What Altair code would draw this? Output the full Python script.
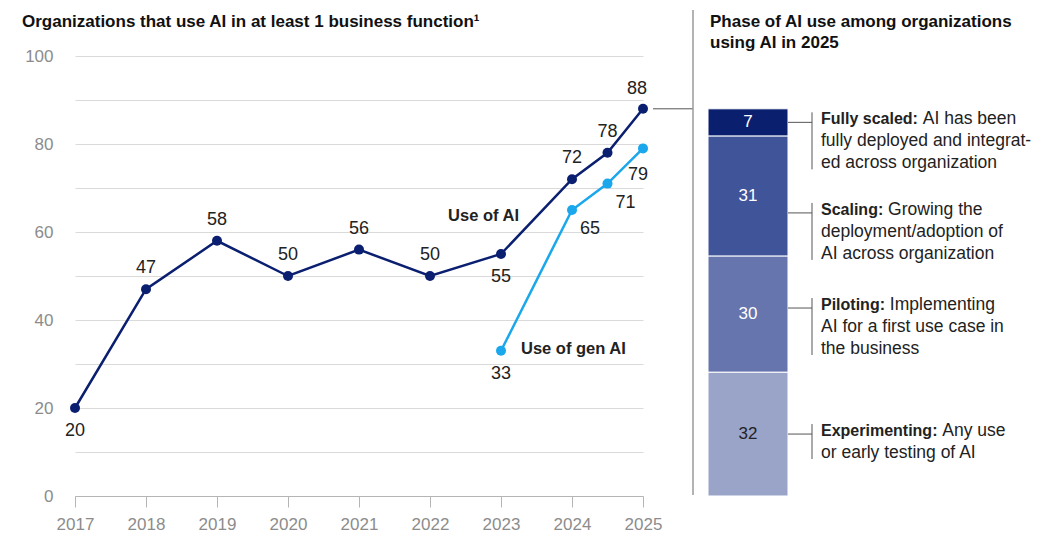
import altair as alt
import pandas as pd

# ---------------- data ----------------
YEARS_AI = [2017, 2018, 2019, 2020, 2021, 2022, 2023, 2024, 2024.5, 2025]
USE_AI = [20, 47, 58, 50, 56, 50, 55, 72, 78, 88]
AI_LABEL_SIDE = ["below", "above", "above", "above", "above", "above",
                 "below", "above", "above", "above_left"]

YEARS_GEN = [2023, 2024, 2024.5, 2025]
USE_GEN_AI = [33, 65, 71, 79]
GEN_LABEL_SIDE = ["below", "below_right", "below_right", "below_left"]

TICK_YEARS = [2017, 2018, 2019, 2020, 2021, 2022, 2023, 2024, 2025]

PHASES = ["Experimenting", "Piloting", "Scaling", "Fully scaled"]
PHASE_SHARE = [32, 30, 31, 7]
PHASE_DESC = [
    ["Any use", "or early testing of AI"],
    ["Implementing", "AI for a first use case in", "the business"],
    ["Growing the", "deployment/adoption of", "AI across organization"],
    ["AI has been", "fully deployed and integrat-", "ed across organization"],
]

TITLE_LEFT = "Organizations that use AI in at least 1 business function\u00b9"
TITLE_RIGHT = ["Phase of AI use among organizations", "using AI in 2025"]
SERIES_AI = "Use of AI"
SERIES_GEN = "Use of gen AI"

# ---------------- style / layout ----------------
FONT = "Liberation Sans"
NAVY = "#0b1f70"
CYAN = "#1aa7ec"
PHASE_COLORS = ["#9aa3c8", "#6675ad", "#40549a", "#0b1f6f"]
GRID = "#dadada"
AXIS_GRAY = "#8c8c8c"
TEXT = "#222222"

W, H = 568, 440
PX_PER_UNIT = H / 100
SEP_X = 618
CONNECT_X0 = 578
BAR_X0, BAR_X1 = 633, 713
BRACKET_X = 737
ANNOT_X = 746
LINE_H_PX = 22
ANNOT_NUDGE_PX = [0, -6, 17, 0]
BOLD_SIZE, REG_SIZE = 16, 17.5

LABEL_OFFSETS = {
    "above": (0, -21),
    "above_left": (-6, -20),
    "below": (0, 23),
    "below_right": (18, 19),
    "below_left": (-5, 27),
}

ARIAL_BOLD = {' ': 278, ':': 333, 'A': 722, 'E': 667, 'F': 611, 'P': 667, 'S': 667,
              'a': 556, 'c': 556, 'd': 611, 'e': 556, 'g': 611, 'i': 278, 'l': 278,
              'm': 889, 'n': 611, 'o': 611, 'p': 611, 'r': 389, 't': 333, 'u': 611,
              'x': 556, 'y': 556, 's': 556, 'z': 500, 'b': 611, 'h': 611}


def bold_width(s, size):
    return sum(ARIAL_BOLD.get(c, 600) for c in s) * size / 1000


# ---------------- frames ----------------
ai = pd.DataFrame({"year": YEARS_AI, "value": USE_AI, "side": AI_LABEL_SIDE, "series": SERIES_AI})
gen = pd.DataFrame({"year": YEARS_GEN, "value": USE_GEN_AI, "side": GEN_LABEL_SIDE, "series": SERIES_GEN})
labels = pd.concat([ai, gen], ignore_index=True)

total = USE_AI[-1]
scale_k = total / 100
rows = []
cum = 0
for i, (p, s) in enumerate(zip(PHASES, PHASE_SHARE)):
    lo, hi = cum * scale_k, (cum + s) * scale_k
    mid = (lo + hi) / 2
    anchor = mid - ANNOT_NUDGE_PX[i] / PX_PER_UNIT
    n = len(PHASE_DESC[i])
    rows.append({
        "phase": p, "share": s, "lo": lo, "hi": hi, "mid": mid,
        "anchor": anchor,
        "b_top": anchor + 10 / PX_PER_UNIT,
        "b_bot": anchor - (LINE_H_PX * (n - 1) + 3) / PX_PER_UNIT,
        "bold": p + ":",
    })
    cum += s
bar = pd.DataFrame(rows)

line_rows = []
for i, r in enumerate(rows):
    for j, txt in enumerate(PHASE_DESC[i][1:], start=1):
        line_rows.append({"y": r["anchor"] - j * LINE_H_PX / PX_PER_UNIT, "txt": txt})
more_lines = pd.DataFrame(line_rows)

X_SCALE = alt.Scale(domain=[2017, 2025], nice=False, zero=False)
X_AXIS = alt.Axis(values=TICK_YEARS, format="d", title=None, grid=False,
                  domainColor="#b5b5b5", tickColor="#b5b5b5", tickSize=11,
                  labelFontSize=17, labelColor=AXIS_GRAY, labelPadding=9,
                  labelFont=FONT, labelFlush=False, labelOverlap=False)
Y_SCALE = alt.Scale(domain=[0, 100], nice=False, zero=True)
Y_AXIS = alt.Axis(values=list(range(0, 101, 10)), title=None,
                  labelExpr="datum.value % 20 == 0 ? datum.label : ''",
                  grid=True, gridColor=GRID, domain=False, ticks=False,
                  labelPadding=22, labelFontSize=17, labelColor=AXIS_GRAY,
                  labelFont=FONT, labelFlush=False, labelOverlap=False)


def X(field):
    return alt.X(field, scale=X_SCALE, axis=X_AXIS)


def Y(field):
    return alt.Y(field, scale=Y_SCALE, axis=Y_AXIS)


layers = []
# lines and points
layers.append(alt.Chart(ai).mark_line(color=NAVY, strokeWidth=2.5).encode(x=X("year:Q"), y=Y("value:Q")))
layers.append(alt.Chart(gen).mark_line(color=CYAN, strokeWidth=2.5).encode(x=X("year:Q"), y=Y("value:Q")))
layers.append(alt.Chart(ai).mark_circle(color=NAVY, size=100, opacity=1).encode(x=X("year:Q"), y=Y("value:Q")))
layers.append(alt.Chart(gen).mark_circle(color=CYAN, size=100, opacity=1).encode(x=X("year:Q"), y=Y("value:Q")))

# value labels
for side, (dx, dy) in LABEL_OFFSETS.items():
    layers.append(
        alt.Chart(labels).transform_filter(alt.datum.side == side)
        .mark_text(font=FONT, fontSize=18, color=TEXT, dx=dx, dy=dy, baseline="middle")
        .encode(x=X("year:Q"), y=Y("value:Q"), text="value:Q")
    )

# series labels
layers.append(
    alt.Chart(ai[ai.year == 2023]).mark_text(font=FONT, fontSize=16.5, fontWeight="bold", color=TEXT,
                                             align="right", baseline="alphabetic", dx=18, dy=-33)
    .encode(x=X("year:Q"), y=Y("value:Q"), text="series:N")
)
layers.append(
    alt.Chart(gen[gen.year == 2023]).mark_text(font=FONT, fontSize=16.5, fontWeight="bold", color=TEXT,
                                               align="left", baseline="alphabetic", dx=20, dy=3)
    .encode(x=X("year:Q"), y=Y("value:Q"), text="series:N")
)

# connector from last point and separator
layers.append(
    alt.Chart(ai.tail(1)).mark_rule(color="#555555", strokeWidth=1)
    .encode(x=alt.value(CONNECT_X0), x2=alt.value(SEP_X), y=Y("value:Q"))
)
one = pd.DataFrame({"k": [0]})
layers.append(
    alt.Chart(one).mark_rule(color="#9a9a9a", strokeWidth=1.5)
    .encode(x=alt.value(SEP_X), y=alt.value(-46), y2=alt.value(H - 1))
)

# stacked bar
layers.append(
    alt.Chart(bar).mark_bar(stroke="white", strokeWidth=1)
    .encode(x=alt.value(BAR_X0), x2=alt.value(BAR_X1),
            y=Y("lo:Q"), y2="hi:Q",
            color=alt.Color("phase:N", scale=alt.Scale(domain=PHASES, range=PHASE_COLORS), legend=None))
)
layers.append(
    alt.Chart(bar).mark_text(font=FONT, fontSize=17, baseline="middle")
    .encode(x=alt.value((BAR_X0 + BAR_X1) / 2), y=Y("mid:Q"), text="share:Q",
            color=alt.condition(alt.datum.phase == "Experimenting", alt.value(TEXT), alt.value("white")))
)

# annotation connectors and brackets
layers.append(
    alt.Chart(bar).mark_rule(color="#555555", strokeWidth=1)
    .encode(x=alt.value(BAR_X1), x2=alt.value(BRACKET_X), y=Y("anchor:Q"))
)
layers.append(
    alt.Chart(bar).mark_rule(color="#555555", strokeWidth=1)
    .encode(x=alt.value(BRACKET_X), y=Y("b_top:Q"), y2="b_bot:Q")
)
layers.append(
    alt.Chart(bar).mark_text(font=FONT, fontSize=BOLD_SIZE, fontWeight="bold", color=TEXT,
                             align="left", baseline="alphabetic", dy=2)
    .encode(x=alt.value(ANNOT_X), y=Y("anchor:Q"), text="bold:N")
)
space_w = 278 * REG_SIZE / 1000
for i, r in enumerate(rows):
    first = pd.DataFrame({"anchor": [r["anchor"]], "txt": [PHASE_DESC[i][0]]})
    xoff = ANNOT_X + bold_width(r["bold"], BOLD_SIZE) + space_w
    layers.append(
        alt.Chart(first).mark_text(font=FONT, fontSize=REG_SIZE, color=TEXT,
                                   align="left", baseline="alphabetic", dy=2)
        .encode(x=alt.value(xoff), y=Y("anchor:Q"), text="txt:N")
    )
layers.append(
    alt.Chart(more_lines).mark_text(font=FONT, fontSize=REG_SIZE, color=TEXT,
                                    align="left", baseline="alphabetic", dy=2)
    .encode(x=alt.value(ANNOT_X), y=Y("y:Q"), text="txt:N")
)

# titles
layers.append(
    alt.Chart(one).mark_text(font=FONT, fontSize=17, fontWeight="bold", color="#111111",
                             align="left", baseline="alphabetic")
    .encode(x=alt.value(-53), y=alt.value(-28.7), text=alt.value(TITLE_LEFT))
)
layers.append(
    alt.Chart(one).mark_text(font=FONT, fontSize=17, fontWeight="bold", color="#111111",
                             align="left", baseline="alphabetic", lineHeight=21)
    .encode(x=alt.value(635), y=alt.value(-29.3), text=alt.value(TITLE_RIGHT))
)

chart = (
    alt.layer(*layers)
    .properties(width=W, height=H,
                autosize=alt.AutoSizeParams(type="none"),
                padding={"left": 67, "top": 48, "right": 391, "bottom": 38})
    .configure(font=FONT)
    .configure_view(stroke=None)
)

chart.save("out.html", embed_options={"renderer": "svg", "actions": False})
